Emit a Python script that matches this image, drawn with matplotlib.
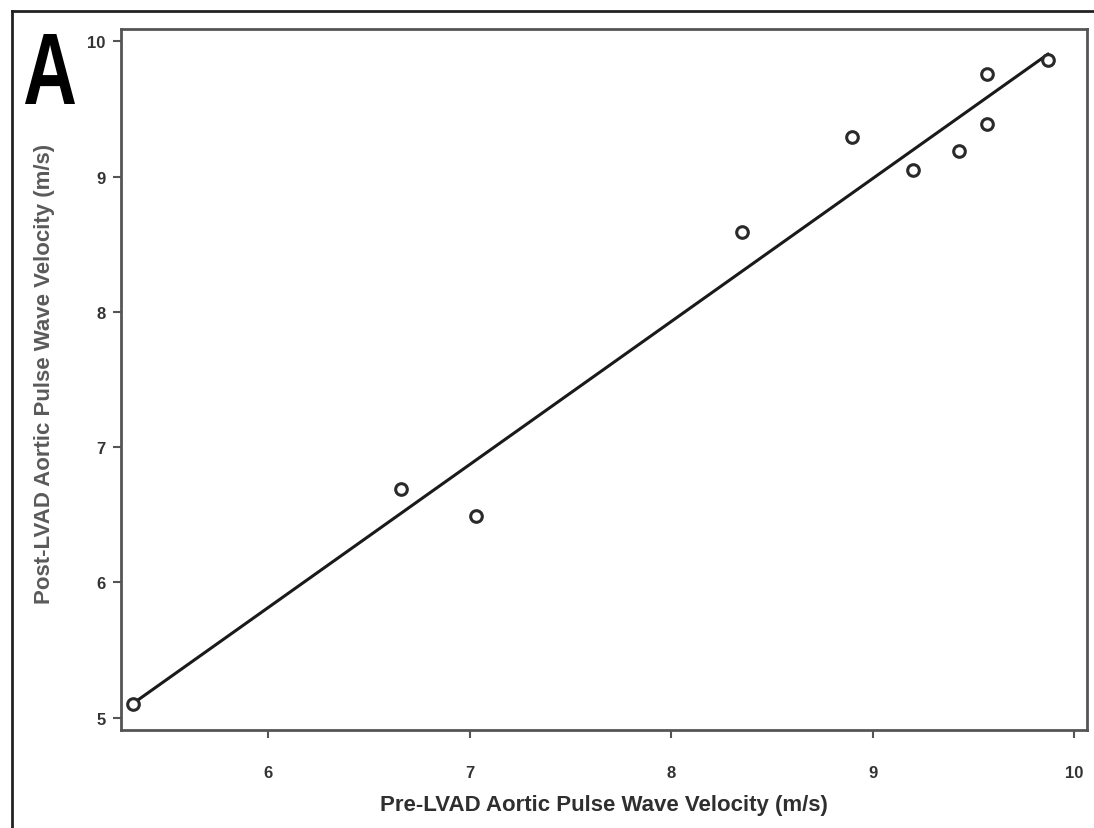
import numpy as np
import matplotlib.pyplot as plt
from matplotlib.lines import Line2D
from matplotlib.textpath import TextPath
from matplotlib.patches import PathPatch
from matplotlib.font_manager import FontProperties
from matplotlib.transforms import Affine2D

plt.rcParams['font.family'] = ['Liberation Sans', 'DejaVu Sans']

# pre / post LVAD aortic pulse wave velocity (m/s)
preLvad = [5.33, 6.66, 7.03, 8.35, 8.90, 9.20, 9.43, 9.57, 9.57, 9.87]
postLvad = [5.10, 6.69, 6.49, 8.59, 9.29, 9.05, 9.19, 9.39, 9.76, 9.86]
xTicks = [6, 7, 8, 9, 10]
yTicks = [5, 6, 7, 8, 9, 10]

W, H = 1094, 829
fig = plt.figure(figsize=(W / 100, H / 100), dpi=100)
ax = fig.add_axes([121 / W, 1 - 731 / H, 966 / W, 701 / H])

# least squares line through the points
slope, icpt = np.polyfit(preLvad, postLvad, 1)
xFit = np.array([min(preLvad), max(preLvad)])
ax.plot(xFit, slope * xFit + icpt, color='#1a1a1a', linewidth=2.2, zorder=2)
ax.scatter(preLvad, postLvad, s=70, facecolors='white', edgecolors='#2a2a2a', linewidths=2.2, zorder=3)

ax.set_xlim(5.27, 10.064)
ax.set_ylim(4.91, 10.09)
ax.set_xticks(xTicks)
ax.set_yticks(yTicks)
ax.set_xticklabels([str(t) for t in xTicks], fontweight='bold')
ax.set_yticklabels([str(t) for t in yTicks], fontweight='bold')
ax.tick_params(direction='out', length=6, width=1.5, colors='#555555', labelsize=12, labelcolor='#333333')
ax.tick_params(axis='x', pad=19)
ax.tick_params(axis='y', pad=5)
for s in ax.spines.values():
    s.set_color('#555555')
    s.set_linewidth(2)

ax.set_xlabel('Pre-LVAD Aortic Pulse Wave Velocity (m/s)', fontsize=16, fontweight='bold',
              color='#2f2f2f')
ax.xaxis.set_label_coords(0.5, -0.092)
ax.set_ylabel('Post-LVAD Aortic Pulse Wave Velocity (m/s)', fontsize=16, fontweight='bold',
              color='#5a5a5a', va='center')
ax.yaxis.set_label_coords(-0.079, 0.509)

# panel letter, condensed by scaling the glyph outline
aPath = TextPath((0, 0), 'A', size=1, prop=FontProperties(family='Liberation Sans', weight='bold'))
ext = aPath.get_extents()
aTrans = (Affine2D().translate(-ext.x0, -ext.y0)
          .scale(50 / ext.width / W, 70 / ext.height / H)
          .translate(25 / W, 1 - 105 / H) + fig.transFigure)
fig.add_artist(PathPatch(aPath, transform=aTrans, facecolor='black', edgecolor='none'))

# outer panel frame (top and left edges)
fig.add_artist(Line2D([12 / W, 1], [1 - 12 / H, 1 - 12 / H], color='#222222', linewidth=2, transform=fig.transFigure))
fig.add_artist(Line2D([12 / W, 12 / W], [1 - 12 / H, 0], color='#222222', linewidth=2, transform=fig.transFigure))

fig.savefig('out.png', dpi=100)
